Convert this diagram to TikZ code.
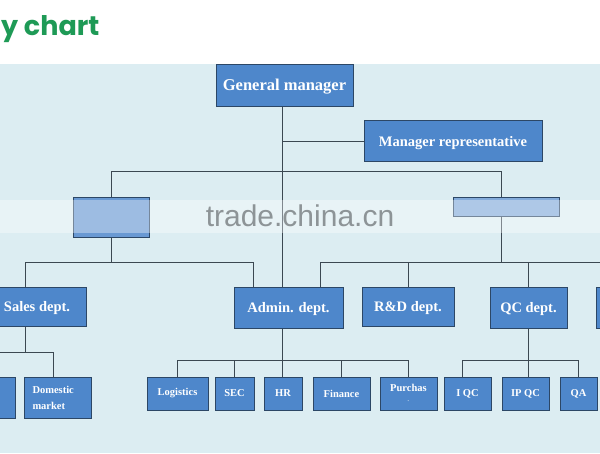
\documentclass[tikz,border=0pt]{standalone}
\usepackage{fontspec}
\setmainfont{Liberation Serif}
\newfontfamily\titlefont{Poppins}
\newfontfamily\markfont{Liberation Sans}
\usetikzlibrary{positioning}
\definecolor{boxblue}{HTML}{4E87CB}
\definecolor{boxedge}{HTML}{2C4766}
\definecolor{linegray}{HTML}{3B4852}
\definecolor{paleblue}{HTML}{DCEDF2}
\definecolor{titlegreen}{HTML}{1E9A56}
\definecolor{markgray}{HTML}{8D9497}

\begin{document}
\begin{tikzpicture}[
    x=1pt, y=-1pt,
    unit/.style={rectangle, draw=boxedge, line width=1pt, fill=boxblue, text=white, inner sep=2pt, align=center},
    big/.style={unit, text depth=0pt, font=\fontsize{14.5}{16}\selectfont\bfseries},
    small/.style={unit, minimum height=33pt, font=\fontsize{10.5}{16}\selectfont\bfseries},
    link/.style={draw=linegray, line width=1pt}
]
    \clip (0,0) rectangle (600,453);
    \fill[white] (0,0) rectangle (600,64);
    \fill[paleblue] (0,64) rectangle (600,453);
    \node[anchor=base west, text=titlegreen, inner sep=0pt, font=\titlefont\fontsize{27}{30}\selectfont\bfseries] (title) at (1,35) {y chart};

    % top
    \node[big, minimum width=137pt, minimum height=42pt, font=\fontsize{16.5}{18}\selectfont\bfseries] (gm) at (284.5,85) {General manager};
    \node[big, minimum width=178pt, minimum height=41pt] (mrep) at (453,141) {Manager representative};

    % second row (blurred)
    \node[unit, minimum width=76pt, minimum height=40pt, fill=boxblue!85!white] (lbox) at (111,217) {};
    \node[unit, minimum width=106pt, minimum height=19pt, fill=boxblue!70!white] (rbox) at (506,206.5) {};

    % departments
    \node[big, minimum width=98pt, minimum height=39pt] (sales) at (37,306.5) {Sales dept.};
    \node[big, minimum width=109pt, minimum height=41pt] (admin) at (288.5,307.5) {Admin. dept.};
    \node[big, minimum width=92pt, minimum height=39pt] (rnd) at (408,306.5) {R\&D dept.};
    \node[big, minimum width=77pt, minimum height=41pt] (qc) at (528.5,307.5) {QC dept.};
    \node[big, minimum width=80pt, minimum height=41pt] (rcut) at (636,307.5) {};

    % sales units
    \node[small, minimum width=60pt, minimum height=41pt] (lcut) at (-15,397.5) {};
    \node[small, minimum width=67pt, minimum height=41pt, text width=50pt, align=left] (domestic) at (57.5,397.5) {Domestic\\market};

    % admin units
    \node[small, minimum width=61pt] (logistics) at (177.5,393.5) {Logistics};
    \node[small, minimum width=39pt, right=6pt of logistics] (sec) {SEC};
    \node[small, minimum width=38pt, right=9pt of sec] (hr) {HR};
    \node[small, minimum width=57pt, right=10pt of hr] (finance) {Finance};
    \node[small, minimum width=57pt, right=9pt of finance] (purchas) {Purchas\\[-5pt]{\tiny -}};

    % qc units
    \node[small, minimum width=47pt] (iqc) at (467.5,394) {I QC};
    \node[small, minimum width=47pt, right=10pt of iqc] (ipqc) {IP QC};
    \node[small, minimum width=37pt, right=10pt of ipqc] (qa) {QA};

    % connectors
    \coordinate (trunk) at ([xshift=-2.5pt]gm.south);
    \draw[link] (trunk) -- (trunk |- admin.north);
    \draw[link] (trunk |- mrep.west) -- (mrep.west);
    \draw[link] (lbox.north) -- ++(0,-25) -| ([xshift=-5pt]rbox.north);

    \draw[link] (lbox.south) -- ++(0,25) coordinate (lbus);
    \draw[link] ([xshift=-12pt]sales.north) |- (lbus) -| ([xshift=-35.5pt]admin.north);

    \draw[link] ([xshift=-5pt]rbox.south) -- ++(0,46) coordinate (rbus);
    \draw[link] ([xshift=31.5pt]admin.north) |- (rbus) -| (rcut.north);
    \draw[link] (rnd.north) -- (rnd.north |- rbus);
    \draw[link] (qc.north) -- (qc.north |- rbus);

    \draw[link] ([xshift=-12pt]sales.south) -- ++(0,26) coordinate (sbus);
    \draw[link] (lcut.north) |- (sbus) -| ([xshift=-4.5pt]domestic.north);

    \draw[link] (trunk |- admin.south) -- (trunk |- hr.north);
    \draw[link] (logistics.north) -- ++(0,-16) -| (purchas.north);
    \foreach \n in {sec,finance}
        \draw[link] (\n.north) -- ++(0,-16);

    \draw[link] (qc.south) -- (qc.south |- ipqc.north);
    \draw[link] ([xshift=-5.5pt]iqc.north) -- ++(0,-17) -| (qa.north);

    % watermark band
    \fill[white, opacity=0.35] (0,200) rectangle (600,233);
    \node[anchor=base, text=markgray, inner sep=0pt, font=\markfont\fontsize{30}{30}\selectfont] (mark) at (300,226) {trade.china.cn};
\end{tikzpicture}
\end{document}
